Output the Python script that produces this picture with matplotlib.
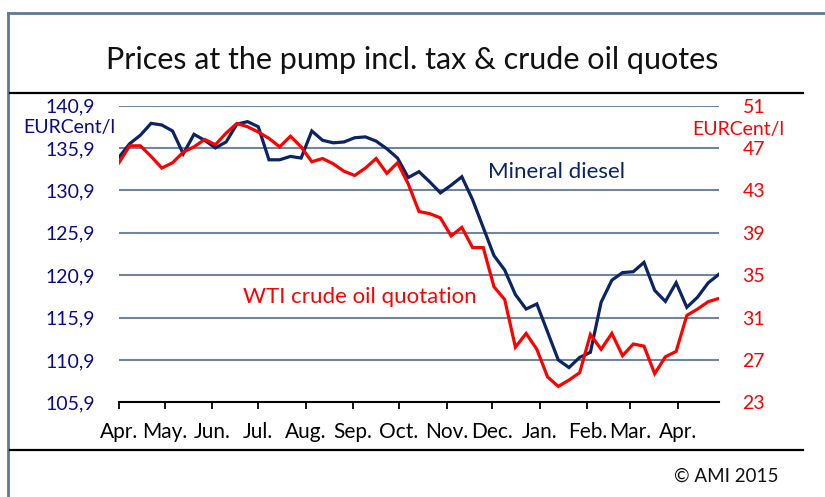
import matplotlib
matplotlib.use("Agg")
import matplotlib.pyplot as plt
from matplotlib.lines import Line2D
import pandas as pd

plt.rcParams['font.family'] = ['Lato', 'DejaVu Sans']

# weekly prices, Apr 2014 - Apr 2015
weeks = pd.date_range('2014-04-01', periods=57, freq='7D')

diesel = [134.8, 136.4, 137.4, 138.8, 138.6, 137.9, 135.2, 137.5, 136.8, 135.9,
          136.6, 138.7, 139.0, 138.4, 134.5, 134.5, 134.9, 134.7, 137.9, 136.8,
          136.5, 136.6, 137.1, 137.2, 136.7, 135.8, 134.7, 132.4, 133.1, 131.9,
          130.6, 131.5, 132.5, 129.8, 126.5, 123.2, 121.5, 118.6, 116.9, 117.5,
          114.2, 110.9, 110.0, 111.2, 111.8, 117.7, 120.3, 121.2, 121.3, 122.4,
          119.1, 117.8, 120.0, 117.1, 118.3, 120.0, 121.0]

wti = [45.6, 47.2, 47.2, 46.2, 45.1, 45.6, 46.6, 47.1, 47.8, 47.3,
       48.4, 49.3, 49.0, 48.5, 47.9, 47.1, 48.1, 47.1, 45.7, 46.0,
       45.5, 44.8, 44.4, 45.1, 46.0, 44.6, 45.6, 43.6, 41.0, 40.8,
       40.4, 38.7, 39.5, 37.6, 37.6, 33.9, 32.7, 28.2, 29.5, 28.0,
       25.4, 24.5, 25.1, 25.8, 29.4, 28.0, 29.5, 27.4, 28.5, 28.3,
       25.7, 27.3, 27.8, 31.2, 31.8, 32.5, 32.8]

left_ticks = [105.9, 110.9, 115.9, 120.9, 125.9, 130.9, 135.9, 140.9]
right_ticks = [23, 27, 31, 35, 39, 43, 47, 51]
month_starts = pd.date_range('2014-04-01', '2015-04-01', freq='MS')
month_labels = ['Apr.', 'May.', 'Jun.', 'Jul.', 'Aug.', 'Sep.', 'Oct.', 'Nov.',
                'Dec.', 'Jan.', 'Feb.', 'Mar.', 'Apr.']

navy = '#0B2463'
label_blue = '#0A0A8C'
grid_col = '#6F85A0'
H = 497.0

fig = plt.figure(figsize=(8.25, 4.97), dpi=100)
ax = fig.add_axes([0.1442, 0.1905, 0.7273, 0.5972])
ax2 = ax.twinx()

ax.set_ylim(105.9, 140.9)
ax2.set_ylim(23, 51)
ax.set_xlim(weeks[0], weeks[-1])

for y in left_ticks[1:]:
    ax.axhline(y, color=grid_col, lw=1.5, zorder=1)

ax.plot(weeks, diesel, color=navy, lw=2.3, zorder=3, solid_joinstyle='miter')
ax2.plot(weeks, wti, color='#FF0000', lw=2.3, zorder=3, solid_joinstyle='miter')

for a in (ax, ax2):
    for s in ('top', 'left', 'right'):
        a.spines[s].set_visible(False)
ax2.spines['bottom'].set_visible(False)
ax.spines['bottom'].set_linewidth(1.5)

ax.set_yticks(left_ticks)
ax.set_yticklabels([f'{v:.1f}'.replace('.', ',') for v in left_ticks])
ax.tick_params(axis='y', length=0, pad=17, labelsize=14, labelcolor=label_blue)
ax2.set_yticks(right_ticks)
ax2.set_yticklabels([str(v) for v in right_ticks])
ax2.tick_params(axis='y', length=0, pad=17, labelsize=14, labelcolor='#FF0000')

ax.set_xticks(month_starts)
ax.set_xticklabels(month_labels)
ax.tick_params(axis='x', direction='out', length=5, width=1.3, pad=9, labelsize=15)

fig.text(69 / 825, 1 - 133 / H, 'EURCent/l', color=label_blue, fontsize=14,
         ha='center', va='baseline')
fig.text(738 / 825, 1 - 135 / H, 'EURCent/l', color='#FF0000', fontsize=14,
         ha='center', va='baseline')

fig.text(488 / 825, 1 - 178 / H, 'Mineral diesel', color=navy, fontsize=16,
         va='baseline')
fig.text(243 / 825, 1 - 303 / H, 'WTI crude oil quotation', color='#FF0000',
         fontsize=16, va='baseline')

fig.text(0.5, 1 - 69 / H, 'Prices at the pump incl. tax & crude oil quotes',
         fontsize=22, ha='center', va='baseline', color='#111111')
fig.text(778 / 825, 1 - 482 / H, '\u00a9 AMI 2015', fontsize=13.5, ha='right',
         va='baseline', color='#111111')

# frame and separator lines
fig.add_artist(Line2D([8 / 825, 8 / 825], [0, 1 - 13 / H], color='#5E7896', lw=2))
fig.add_artist(Line2D([8 / 825, 1], [1 - 13 / H, 1 - 13 / H], color='#5E7896', lw=2))
fig.add_artist(Line2D([10 / 825, 803 / 825], [1 - 93 / H, 1 - 93 / H], color='black', lw=1.6))
fig.add_artist(Line2D([10 / 825, 803 / 825], [1 - 450 / H, 1 - 450 / H], color='black', lw=1.6))

fig.savefig('out.png', dpi=100)
